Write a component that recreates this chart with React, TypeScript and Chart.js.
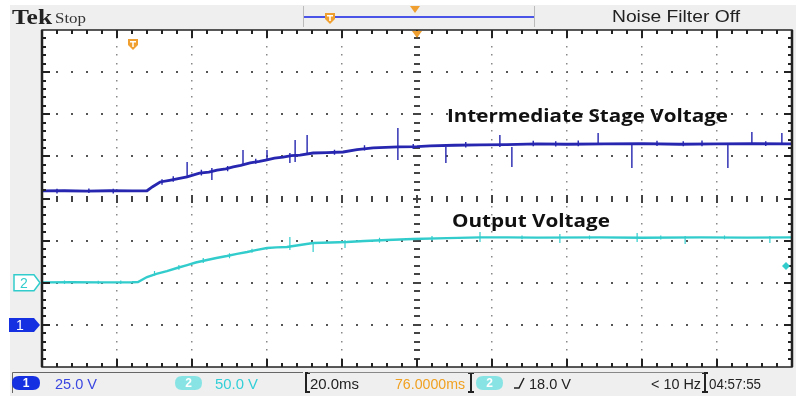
import React, { useEffect, useRef } from "react";
import { Chart, registerables } from "chart.js";
Chart.register(...registerables);

// Horizontal: 20 ms/div, 10 divisions
const timeMin = 0;
const timeMax = 200;
// Channel 1 (25 V/div), ground marker 3 div below centre
const ch1Min = -25;
const ch1Max = 175;
// Channel 2 (50 V/div), ground marker 2 div below centre
const ch2Min = -100;
const ch2Max = 300;

const ch1Times = [0, 6, 12, 18, 24, 28, 29.5, 31.5, 34, 36, 38.7, 42, 44.5, 46.7, 49, 51, 53, 55.5, 58, 60, 62, 64.3, 66.5, 68.8, 72.3, 76, 80.3, 84, 88.3, 95, 100, 103.5, 110, 116.8, 124, 132, 140, 150, 160, 170, 180, 190, 200];
const ch1Volts = [79.5, 79.6, 79.4, 79.6, 79.5, 79.6, 82.0, 84.8, 85.8, 86.6, 87.8, 90.1, 90.6, 91.9, 92.6, 93.7, 94.6, 96.1, 97.0, 97.9, 98.9, 99.6, 100.4, 100.8, 102.0, 102.2, 102.6, 104.0, 105.0, 105.6, 105.8, 106.2, 106.6, 106.8, 107.0, 107.4, 107.2, 107.4, 107.6, 107.2, 107.4, 107.5, 107.4];

const ch1SpikeTimes = [4, 12.5, 19, 32, 35, 38.7, 42.5, 45.3, 49.5, 53.6, 57, 60, 66.1, 67.5, 70.7, 78, 86, 94.9, 99, 107.7, 113, 122.1, 125.3, 131, 137, 143, 148.3, 157.3, 164, 171, 176, 182.9, 189.3, 193, 197.3];
const ch1SpikeLows = [78.0, 78.2, 78.0, 83.2, 85.0, 87.3, 88.6, 86.0, 91.2, 94.9, 95.6, 97.9, 96.1, 96.7, 102.0, 101.0, 103.5, 97.9, 104.4, 96.1, 105.3, 105.6, 93.7, 106.0, 105.9, 106.0, 106.8, 93.1, 106.2, 106.0, 106.0, 93.1, 106.8, 106.1, 106.8];
const ch1SpikeHighs = [80.8, 80.9, 80.8, 86.4, 88.2, 96.7, 92.0, 93.1, 94.3, 103.8, 98.6, 103.8, 102.0, 109.7, 112.7, 104.0, 106.6, 116.9, 107.3, 105.6, 108.6, 112.7, 105.6, 109.3, 109.0, 109.4, 113.9, 106.8, 109.2, 109.0, 109.4, 106.8, 114.5, 109.0, 113.9];

const ch2Times = [0, 8, 16, 24, 25.6, 28, 30.5, 33.3, 36, 38.7, 41, 44, 46.5, 49.3, 52, 54.7, 57, 60, 62.5, 65.3, 68.8, 72.3, 77, 81.3, 86, 92, 98.9, 108, 116.8, 124, 132, 148.8, 160, 175.5, 188, 200];
const ch2Volts = [0.5, 0.6, 0.4, 0.6, 0.8, 6.8, 10.5, 13.9, 17.5, 21.0, 24.0, 27.0, 29.4, 31.7, 34.2, 36.5, 38.8, 41.2, 42.0, 42.4, 44.8, 47.1, 47.8, 48.3, 49.5, 50.7, 51.9, 53.0, 53.8, 53.8, 53.6, 53.8, 53.5, 53.8, 53.6, 53.8];

const ch2SpikeTimes = [6, 15, 21, 30, 36.5, 43, 50, 56, 66.1, 72.3, 80.8, 90, 104, 116.8, 128, 138.1, 146, 158.7, 165, 171.5, 182, 194.1];
const ch2SpikeLows = [-1.5, -1.6, -1.4, 8.5, 15.5, 23.5, 29.0, 35.5, 38.8, 36.5, 41.2, 47.5, 50.0, 48.3, 51.5, 47.1, 51.6, 48.3, 51.4, 46.0, 51.5, 47.1];
const ch2SpikeHighs = [2.6, 2.5, 2.7, 14.0, 21.0, 29.5, 35.0, 40.5, 54.3, 47.1, 50.7, 53.5, 55.6, 60.2, 56.0, 57.8, 56.2, 59.0, 56.0, 55.5, 56.2, 55.5];

const headerTitle = "Tek";
const headerState = "Stop";
const headerRight = "Noise Filter Off";
const labelCh1 = "Intermediate Stage Voltage";
const labelCh2 = "Output Voltage";
const ch1Scale = "25.0 V";
const ch2Scale = "50.0 V";
const timeScale = "20.0ms";
const timeDelay = "76.0000ms";
const trigLevel = "18.0 V";
const trigFreq = "< 10 Hz";
const clockText = "04:57:55";

const BLUE = "#2626b0";
const CYAN = "#33cccc";
const ORANGE = "#f0a030";

function spikeData(times: number[], lows: number[], highs: number[]) {
  const out: any[] = [];
  times.forEach((t, i) => {
    out.push({ x: t, y: lows[i] }, { x: t, y: highs[i] }, { x: t, y: null });
  });
  return out;
}

function fitText(ctx: CanvasRenderingContext2D, text: string, x: number, y: number, width: number, font: string, color: string) {
  ctx.save();
  ctx.font = font;
  ctx.fillStyle = color;
  ctx.textBaseline = "alphabetic";
  ctx.textAlign = "left";
  const w = ctx.measureText(text).width;
  ctx.translate(x, y);
  ctx.scale(width / w, 1);
  ctx.fillText(text, 0, 0);
  ctx.restore();
}

function roundRect(ctx: CanvasRenderingContext2D, x: number, y: number, w: number, h: number, r: number) {
  ctx.beginPath();
  ctx.moveTo(x + r, y);
  ctx.lineTo(x + w - r, y);
  ctx.quadraticCurveTo(x + w, y, x + w, y + r);
  ctx.lineTo(x + w, y + h - r);
  ctx.quadraticCurveTo(x + w, y + h, x + w - r, y + h);
  ctx.lineTo(x + r, y + h);
  ctx.quadraticCurveTo(x, y + h, x, y + h - r);
  ctx.lineTo(x, y + r);
  ctx.quadraticCurveTo(x, y, x + r, y);
  ctx.closePath();
}

function pill(ctx: CanvasRenderingContext2D, x: number, y: number, w: number, h: number, fill: string, label: string) {
  ctx.save();
  roundRect(ctx, x, y, w, h, h / 2);
  ctx.fillStyle = fill;
  ctx.fill();
  ctx.fillStyle = "#ffffff";
  ctx.font = "bold 12px 'Liberation Sans'";
  ctx.textAlign = "center";
  ctx.textBaseline = "middle";
  ctx.fillText(label, x + w / 2, y + h / 2 + 1);
  ctx.restore();
}

function tMarker(ctx: CanvasRenderingContext2D, cx: number, cy: number) {
  ctx.save();
  ctx.fillStyle = ORANGE;
  ctx.beginPath();
  ctx.moveTo(cx - 5, cy - 5);
  ctx.lineTo(cx + 5, cy - 5);
  ctx.lineTo(cx + 5, cy + 1);
  ctx.lineTo(cx, cy + 6);
  ctx.lineTo(cx - 5, cy + 1);
  ctx.closePath();
  ctx.fill();
  ctx.fillStyle = "#fff";
  ctx.fillRect(cx - 3, cy - 3, 6, 1.5);
  ctx.fillRect(cx - 0.75, cy - 3, 1.5, 6);
  ctx.restore();
}

const scopePlugin = {
  id: "scope",
  beforeDraw(chart: any) {
    const ctx: CanvasRenderingContext2D = chart.ctx;
    const a = chart.chartArea;
    ctx.save();
    ctx.fillStyle = "#ffffff";
    ctx.fillRect(0, 0, chart.width, chart.height);
    ctx.fillStyle = "#efefef";
    ctx.fillRect(10, 5, chart.width - 10, chart.height - 5);
    ctx.fillStyle = "#ffffff";
    ctx.fillRect(a.left, a.top, a.right - a.left, a.bottom - a.top);

    // header
    fitText(ctx, headerTitle, 12, 24, 40, "bold 22px 'Liberation Serif'", "#222");
    fitText(ctx, headerState, 55, 23, 31, "14px 'Liberation Serif'", "#333");
    ctx.strokeStyle = "#bbbbbb";
    ctx.lineWidth = 1;
    ctx.beginPath();
    ctx.moveTo(303.5, 6); ctx.lineTo(303.5, 27);
    ctx.moveTo(534.5, 6); ctx.lineTo(534.5, 27);
    ctx.stroke();
    ctx.strokeStyle = "#4a55e8";
    ctx.lineWidth = 2;
    ctx.beginPath();
    ctx.moveTo(304, 17); ctx.lineTo(534, 17);
    ctx.stroke();
    tMarker(ctx, 330, 18);
    ctx.fillStyle = ORANGE;
    ctx.beginPath();
    ctx.moveTo(410, 6); ctx.lineTo(420, 6); ctx.lineTo(415, 13); ctx.closePath();
    ctx.fill();
    fitText(ctx, headerRight, 612, 22, 128, "16px 'Liberation Sans'", "#222");

    // grid
    const dx = (a.right - a.left) / 10;
    const dy = (a.bottom - a.top) / 8;
    ctx.fillStyle = "#555";
    for (let i = 1; i < 8; i++) {
      if (i === 4) continue;
      const y = a.top + i * dy;
      for (let j = 1; j < 50; j++) {
        const x = a.left + (j * dx) / 5;
        ctx.fillRect(Math.round(x) - 1, Math.round(y) - 1, 2, 2);
      }
    }
    ctx.fillStyle = "#888";
    for (let i = 1; i < 10; i++) {
      if (i === 5) continue;
      const x = a.left + i * dx;
      for (let j = 1; j < 40; j++) {
        const y = a.top + (j * dy) / 5;
        ctx.fillRect(Math.round(x) - 1, Math.round(y) - 1, 1.5, 1.5);
      }
    }
    const cx = a.left + 5 * dx;
    const cy = a.top + 4 * dy;
    ctx.fillStyle = "#444";
    for (let j = 1; j < 40; j++) {
      const y = a.top + (j * dy) / 5;
      const w = j % 5 === 0 ? 8 : 6;
      ctx.fillRect(Math.round(cx - w / 2), Math.round(y) - 1, w, 2);
    }
    for (let j = 1; j < 50; j++) {
      const x = a.left + (j * dx) / 5;
      const h = j % 5 === 0 ? 8 : 6;
      ctx.fillRect(Math.round(x) - 1, Math.round(cy - h / 2), 2, h);
    }
    ctx.restore();
  },
  afterDatasetsDraw(chart: any) {
    const ctx: CanvasRenderingContext2D = chart.ctx;
    const a = chart.chartArea;
    const dx = (a.right - a.left) / 10;
    const dy = (a.bottom - a.top) / 8;
    ctx.save();
    ctx.strokeStyle = "#222";
    ctx.lineWidth = 1.5;
    ctx.strokeRect(a.left, a.top, a.right - a.left, a.bottom - a.top);
    ctx.fillStyle = "#222";
    for (let j = 1; j < 50; j++) {
      const x = a.left + (j * dx) / 5;
      const h = j % 5 === 0 ? 8 : 4;
      ctx.fillRect(Math.round(x) - 1, a.top, 2, h);
      ctx.fillRect(Math.round(x) - 1, a.bottom - h, 2, h);
    }
    for (let j = 1; j < 40; j++) {
      const y = a.top + (j * dy) / 5;
      const w = j % 5 === 0 ? 8 : 4;
      ctx.fillRect(a.left, Math.round(y) - 1, w, 2);
      ctx.fillRect(a.right - w, Math.round(y) - 1, w, 2);
    }
    ctx.lineWidth = 2.5;
    ctx.beginPath();
    ctx.moveTo(a.left, a.top); ctx.lineTo(a.left, a.bottom);
    ctx.moveTo(a.right, a.top); ctx.lineTo(a.right, a.bottom);
    ctx.stroke();

    const trigX = a.left + 5 * dx;
    ctx.fillStyle = ORANGE;
    ctx.beginPath();
    ctx.moveTo(trigX - 5, a.top + 1); ctx.lineTo(trigX + 5, a.top + 1); ctx.lineTo(trigX, a.top + 8); ctx.closePath();
    ctx.fill();
    tMarker(ctx, 133, 44);

    const y2 = chart.scales.y2.getPixelForValue(0);
    const y1 = chart.scales.y1.getPixelForValue(0);
    ctx.beginPath();
    ctx.moveTo(14, y2 - 8); ctx.lineTo(34, y2 - 8); ctx.lineTo(40, y2); ctx.lineTo(34, y2 + 8); ctx.lineTo(14, y2 + 8); ctx.closePath();
    ctx.fillStyle = "#ffffff";
    ctx.fill();
    ctx.strokeStyle = CYAN;
    ctx.lineWidth = 1.5;
    ctx.stroke();
    ctx.fillStyle = CYAN;
    ctx.font = "14px 'Liberation Sans'";
    ctx.textAlign = "center";
    ctx.textBaseline = "middle";
    ctx.fillText("2", 24, y2 + 1);
    ctx.beginPath();
    ctx.moveTo(9, y1 - 7); ctx.lineTo(34, y1 - 7); ctx.lineTo(40, y1); ctx.lineTo(34, y1 + 7); ctx.lineTo(9, y1 + 7); ctx.closePath();
    ctx.fillStyle = "#1530e0";
    ctx.fill();
    ctx.fillStyle = "#fff";
    ctx.fillText("1", 20, y1 + 1);
    ctx.fillStyle = CYAN;
    ctx.beginPath();
    ctx.moveTo(782, 266); ctx.lineTo(786, 262); ctx.lineTo(790, 266); ctx.lineTo(786, 270); ctx.closePath();
    ctx.fill();

    fitText(ctx, labelCh1, 447, 122, 281, "bold 18px 'Open Sans'", "#111");
    fitText(ctx, labelCh2, 452, 227, 158, "bold 18px 'Open Sans'", "#111");

    ctx.strokeStyle = "#666";
    ctx.lineWidth = 1;
    ctx.beginPath();
    ctx.moveTo(12.5, 393); ctx.lineTo(12.5, 372.5); ctx.lineTo(303, 372.5);
    ctx.stroke();
    ctx.strokeStyle = "#222";
    ctx.lineWidth = 2;
    ctx.beginPath();
    ctx.moveTo(306, 372); ctx.lineTo(306, 393);
    ctx.moveTo(306, 373); ctx.lineTo(310, 373);
    ctx.moveTo(306, 392); ctx.lineTo(310, 392);
    ctx.moveTo(471, 372); ctx.lineTo(471, 393);
    ctx.moveTo(468, 373); ctx.lineTo(474, 373);
    ctx.moveTo(468, 392); ctx.lineTo(474, 392);
    ctx.moveTo(705, 372); ctx.lineTo(705, 393);
    ctx.moveTo(702, 373); ctx.lineTo(708, 373);
    ctx.moveTo(702, 392); ctx.lineTo(708, 392);
    ctx.stroke();
    ctx.strokeStyle = "#888";
    ctx.lineWidth = 1;
    ctx.beginPath();
    ctx.moveTo(308, 372.5); ctx.lineTo(704, 372.5);
    ctx.stroke();

    pill(ctx, 12, 376, 28, 14, "#1530e0", "1");
    fitText(ctx, ch1Scale, 55, 389, 42, "15px 'Liberation Sans'", "#3a46e0");
    pill(ctx, 175, 376, 27, 14, "#88e4e4", "2");
    fitText(ctx, ch2Scale, 215, 389, 43, "15px 'Liberation Sans'", "#33cfd8");
    fitText(ctx, timeScale, 310, 389, 49, "15px 'Liberation Sans'", "#222");
    fitText(ctx, timeDelay, 395, 389, 70, "15px 'Liberation Sans'", "#f0a020");
    pill(ctx, 476, 376, 27, 14, "#88e4e4", "2");
    ctx.strokeStyle = "#222";
    ctx.lineWidth = 1.5;
    ctx.beginPath();
    ctx.moveTo(514, 388); ctx.lineTo(519, 388); ctx.lineTo(524, 378);
    ctx.stroke();
    fitText(ctx, trigLevel, 529, 389, 42, "15px 'Liberation Sans'", "#222");
    fitText(ctx, trigFreq, 651, 389, 50, "15px 'Liberation Sans'", "#222");
    fitText(ctx, clockText, 709, 389, 52, "15px 'Liberation Sans'", "#222");
    ctx.restore();
  },
};

export default function App() {
  const ref = useRef<HTMLCanvasElement>(null);
  useEffect(() => {
    if (!ref.current) return;
    const ch1 = ch1Times.map((t, i) => ({ x: t, y: ch1Volts[i] }));
    const ch2 = ch2Times.map((t, i) => ({ x: t, y: ch2Volts[i] }));
    const chart = new Chart(ref.current, {
      type: "scatter",
      data: {
        datasets: [
          { data: ch2, yAxisID: "y2", showLine: true, borderColor: CYAN, borderWidth: 2.4, pointRadius: 0, tension: 0 },
          { data: spikeData(ch2SpikeTimes, ch2SpikeLows, ch2SpikeHighs), yAxisID: "y2", showLine: true, spanGaps: false, borderColor: CYAN, borderWidth: 1.2, pointRadius: 0 },
          { data: ch1, yAxisID: "y1", showLine: true, borderColor: BLUE, borderWidth: 2.8, pointRadius: 0, tension: 0 },
          { data: spikeData(ch1SpikeTimes, ch1SpikeLows, ch1SpikeHighs), yAxisID: "y1", showLine: true, spanGaps: false, borderColor: BLUE, borderWidth: 1.4, pointRadius: 0 },
        ],
      },
      options: {
        animation: false,
        responsive: false,
        devicePixelRatio: 1,
        layout: { padding: { left: 42, top: 30, right: 4, bottom: 29 } },
        plugins: { legend: { display: false }, tooltip: { enabled: false } },
        scales: {
          x: { type: "linear", min: timeMin, max: timeMax, display: false },
          y1: { type: "linear", min: ch1Min, max: ch1Max, display: false },
          y2: { type: "linear", min: ch2Min, max: ch2Max, display: false },
        },
      },
      plugins: [scopePlugin],
    } as any);
    return () => chart.destroy();
  }, []);
  return (
    <div style={{ position: "fixed", left: 0, top: 0, width: 796, height: 396 }}>
      <canvas ref={ref} width={796} height={396} style={{ width: 796, height: 396, display: "block" }} />
    </div>
  );
}
